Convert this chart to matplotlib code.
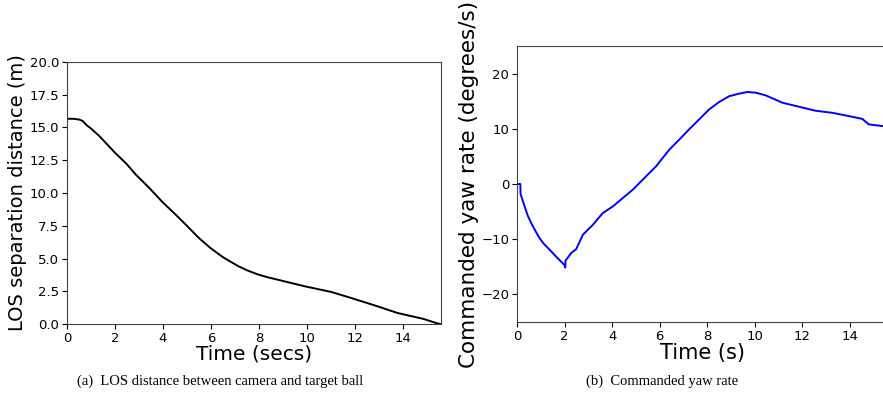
import matplotlib

matplotlib.use("Agg")
import matplotlib.pyplot as plt

# LOS separation distance (m) vs time (secs)
los_t = [0.0, 0.3, 0.52, 0.65, 0.83, 1.0, 1.35, 2.0, 2.46, 2.87, 3.42, 3.97, 4.52, 4.94, 5.49,
         5.97, 6.48, 6.8, 7.14, 7.5, 7.97, 8.4, 8.87, 9.9, 11.0, 11.83, 12.8, 13.77, 14.87,
         15.42, 15.55]
los_d = [15.67, 15.66, 15.6, 15.5, 15.16, 14.92, 14.34, 13.07, 12.26, 11.4, 10.4, 9.32, 8.36,
         7.6, 6.57, 5.81, 5.12, 4.77, 4.41, 4.1, 3.77, 3.55, 3.34, 2.88, 2.45, 1.99, 1.43, 0.84,
         0.38, 0.05, 0.0]

# commanded yaw rate (degrees/s) vs time (s)
yaw_t = [0.0, 0.14, 0.15, 0.32, 0.45, 0.6, 0.8, 0.95, 1.1, 1.37, 1.7, 2.0, 2.03, 2.04, 2.28,
         2.49, 2.77, 3.19, 3.6, 4.03, 4.45, 4.87, 5.29, 5.85, 6.41, 6.83, 7.24, 7.66, 8.08, 8.5,
         8.92, 9.34, 9.69, 10.04, 10.46, 11.16, 11.86, 12.56, 13.26, 13.96, 14.52, 14.8, 15.36]
yaw_r = [0.0, 0.0, -1.8, -4.06, -5.7, -7.09, -8.7, -9.8, -10.7, -11.9, -13.4, -14.7, -15.15,
         -13.9, -12.5, -11.8, -9.2, -7.4, -5.3, -4.06, -2.55, -1.03, 0.79, 3.2, 6.24, 8.06, 9.9,
         11.7, 13.5, 14.85, 15.9, 16.36, 16.67, 16.55, 16.06, 14.73, 14.0, 13.27, 12.9, 12.3,
         11.8, 10.8, 10.5]

fig = plt.figure(figsize=(8.83, 4.0), dpi=100)

ax1 = fig.add_axes([0.0759, 0.19, 0.4235, 0.655])
ax1.plot(los_t, los_d, color="black", lw=1.4)
ax1.set_xlim(0, 15.58)
ax1.set_ylim(0, 20)
ax1.set_yticks([0, 2.5, 5, 7.5, 10, 12.5, 15, 17.5, 20])
ax1.set_xticks([0, 2, 4, 6, 8, 10, 12, 14])
ax1.set_xlabel("Time (secs)", fontsize=14.5, labelpad=0)
ax1.set_ylabel("LOS separation distance (m)", fontsize=14, labelpad=2)

ax2 = fig.add_axes([0.5855, 0.195, 0.42, 0.69])
ax2.plot(yaw_t, yaw_r, color="blue", lw=1.4)
ax2.set_xlim(0, 15.6)
ax2.set_ylim(-25, 25)
ax2.set_yticks([-20, -10, 0, 10, 20])
ax2.set_xticks([0, 2, 4, 6, 8, 10, 12, 14])
ax2.set_xlabel("Time (s)", fontsize=15, labelpad=0)
ax2.set_ylabel("Commanded yaw rate (degrees/s)", fontsize=15.5, labelpad=2)

for ax in (ax1, ax2):
    ax.tick_params(labelsize=9.5, length=3.5, pad=2)
    for s in ax.spines.values():
        s.set_color("#444444")
        s.set_linewidth(0.8)

fig.text(0.249, 0.047, "(a)  LOS distance between camera and target ball",
         family="Liberation Serif", fontsize=10.5, ha="center", va="center")
fig.text(0.75, 0.047, "(b)  Commanded yaw rate",
         family="Liberation Serif", fontsize=10.5, ha="center", va="center")

fig.savefig("out.png", dpi=100)
